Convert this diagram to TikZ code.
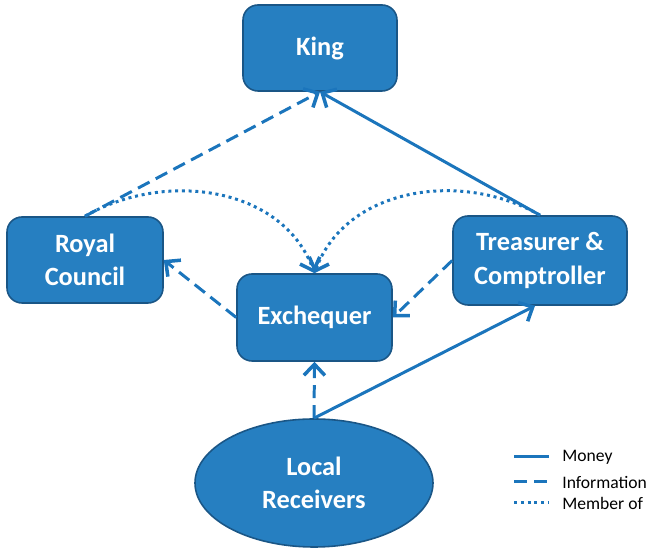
\documentclass[tikz,border=0pt]{standalone}
\usepackage{fontspec}
\setmainfont{Carlito}
\usetikzlibrary{arrows.meta}
\usetikzlibrary{shapes.geometric}
\definecolor{mfill}{RGB}{38,127,193}
\definecolor{medge}{RGB}{26,86,134}
\definecolor{mline}{RGB}{27,117,188}
\tikzset{box/.style = {draw = medge, fill = mfill, line width = 0.9pt, text = white, align = center, inner sep = 0, font = \bfseries\fontsize{15}{19}\selectfont}}
\tikzset{rbox/.style = {box, rounded corners = 0.3cm}}
\tikzset{money/.style = {mline, line width = 1.7pt}}
\tikzset{info/.style = {money, dash pattern = on 0.26cm off 0.14cm}}
\tikzset{member/.style = {money, dash pattern = on 0.06cm off 0.075cm}}
\tikzset{legend/.style = {inner sep = 0, font = \fontsize{10}{12}\selectfont}}
\tikzset{>={Straight Barb[length = 2.2mm, width = 4.2mm, line width = 2pt]}}

\begin{document}
\begin{tikzpicture}
    \useasboundingbox (0, 0) rectangle (12.98, 11);

    \node [rbox, minimum width = 3.08cm, minimum height = 1.72cm] (king) at (6.40, 10.04) {King};
    \node [rbox, minimum width = 3.12cm, minimum height = 1.72cm] (council) at (1.70, 5.80) {Royal\\Council};
    \node [rbox, minimum width = 3.10cm, minimum height = 1.74cm] (exch) at (6.29, 4.65) {Exchequer};
    \node [rbox, minimum width = 3.48cm, minimum height = 1.78cm] (treas) at (10.80, 5.79) {Treasurer \&\\Comptroller};
    \node [box, ellipse, minimum width = 4.76cm, minimum height = 2.56cm] (recv) at (6.28, 1.34) {Local\\Receivers};

    \draw [info, ->] (council.north) -- (king.south);
    \draw [money, ->] (treas.north) -- (king.south);
    \draw [info, ->] (exch.west) -- (council.east);
    \draw [info, ->] (treas.west) -- (exch.east);
    \draw [info, ->] (recv.north) -- (exch.south);
    \draw [money, ->] (recv.north) -- ([xshift = -0.1cm]treas.south);
    \draw [member, ->] (council.north) to [out = 30, in = 110] (exch.north);
    \draw [member, ->] (treas.north) to [out = 150, in = 70] (exch.north);

    \foreach \y/\s/\t [count = \i] in {1.86/money/Money, 1.36/info/Information, 0.94/member/Member of} {
      \coordinate (a\i) at (10.28, \y);
      \coordinate (b\i) at (10.98, \y);
      \draw [\s] (a\i) -- (b\i);
      \node [legend, anchor = west] (l\i) at (11.24, \y) {\t};
    }
  \end{tikzpicture}
\end{document}
